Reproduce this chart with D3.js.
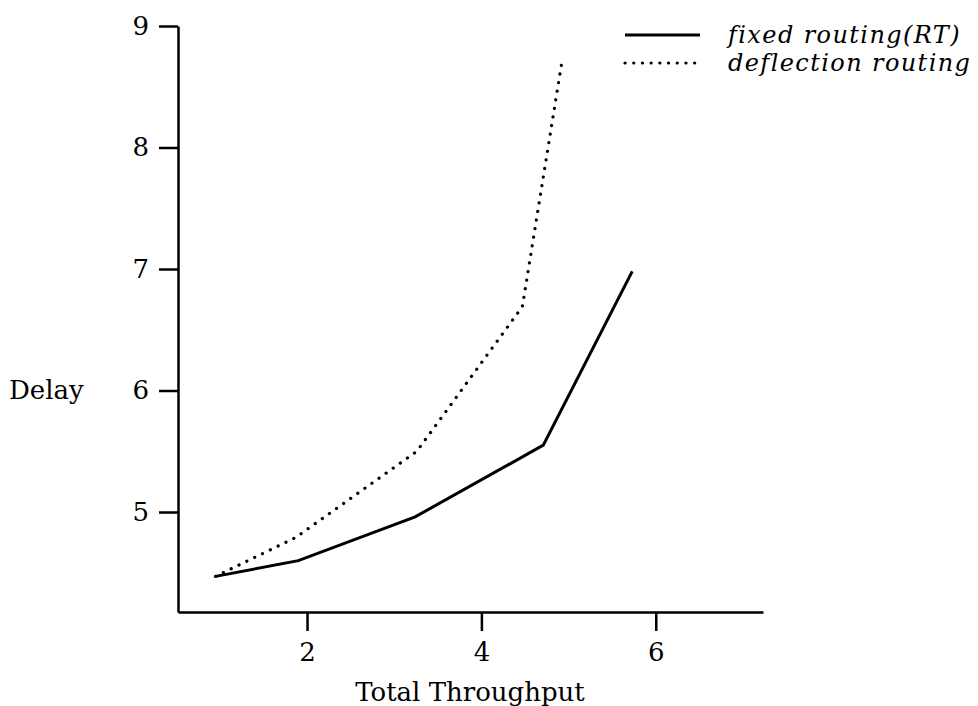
<!DOCTYPE html>
<html>
<head>
<meta charset="utf-8">
<script src="https://cdn.jsdelivr.net/npm/d3@7"></script>
<style>
  body { margin: 0; background: #fff; }
  svg { display: block; }
  .axis path, .axis line { stroke: #000; stroke-width: 2.5; }
  .axis text { font-family: "DejaVu Serif", serif; font-size: 26px; fill: #000; }
  .label { font-family: "DejaVu Serif", serif; font-size: 26px; fill: #000; }
  .legend text { font-family: "DejaVu Serif", serif; font-style: italic; font-size: 24px; letter-spacing: 1.4px; fill: #000; }
</style>
</head>
<body>
<svg id="chart" width="978" height="706"></svg>
<script>
// Valeurs
const THROUGHPUT_FIXED = [0.95, 1.9, 3.24, 4.71, 5.73];
const DELAY_FIXED = [4.47, 4.6, 4.96, 5.55, 6.98];
const THROUGHPUT_DEFL = [0.95, 1.87, 3.26, 4.47, 4.92];
const DELAY_DEFL = [4.47, 4.79, 5.5, 6.69, 8.69];
const X_TICKS = [2, 4, 6];
const Y_TICKS = [5, 6, 7, 8, 9];
const LEGEND = ["fixed routing(RT)", "deflection routing"];

const SVG = d3.select("#chart");

// Échelles (axes en forme de L, comme sur l'original)
const X = d3.scaleLinear().domain([0.52, 7.23]).range([178, 763]);
const Y = d3.scaleLinear().domain([4.177, 9]).range([612, 26]);

SVG.append("g")
  .attr("class", "axis")
  .attr("transform", `translate(0,${Y.range()[0]})`)
  .call(d3.axisBottom(X).tickValues(X_TICKS).tickSize(19).tickSizeOuter(0).tickPadding(12).tickFormat(d3.format("d")));

SVG.append("g")
  .attr("class", "axis")
  .attr("transform", `translate(${X.range()[0]},0)`)
  .call(d3.axisLeft(Y).tickValues(Y_TICKS).tickSize(19).tickSizeOuter(0).tickPadding(10).tickFormat(d3.format("d")));

// Courbes
const LINE = d3.line().x(d => X(d[0])).y(d => Y(d[1]));

SVG.append("path")
  .datum(d3.zip(THROUGHPUT_FIXED, DELAY_FIXED))
  .attr("d", LINE)
  .attr("fill", "none")
  .attr("stroke", "#000")
  .attr("stroke-width", 3);

SVG.append("path")
  .datum(d3.zip(THROUGHPUT_DEFL, DELAY_DEFL))
  .attr("d", LINE)
  .attr("fill", "none")
  .attr("stroke", "#000")
  .attr("stroke-width", 3.2)
  .attr("stroke-linecap", "round")
  .attr("stroke-dasharray", "0.1 8.6");

// Titres des axes
SVG.append("text").attr("class", "label")
  .attr("x", 470).attr("y", 701)
  .attr("text-anchor", "middle")
  .text("Total Throughput");

SVG.append("text").attr("class", "label")
  .attr("x", 9).attr("y", 399)
  .text("Delay");

// Légende
const LEG = SVG.append("g").attr("class", "legend");
LEGEND.forEach((name, i) => {
  const y = 35 + i * 28;
  LEG.append("line")
    .attr("x1", 625).attr("x2", 700)
    .attr("y1", y).attr("y2", y)
    .attr("stroke", "#000")
    .attr("stroke-width", i === 0 ? 3 : 3.2)
    .attr("stroke-linecap", i === 0 ? "butt" : "round")
    .attr("stroke-dasharray", i === 0 ? null : "0.1 8.6");
  LEG.append("text")
    .attr("x", 728).attr("y", y + 8)
    .text(name);
});
</script>
</body>
</html>
